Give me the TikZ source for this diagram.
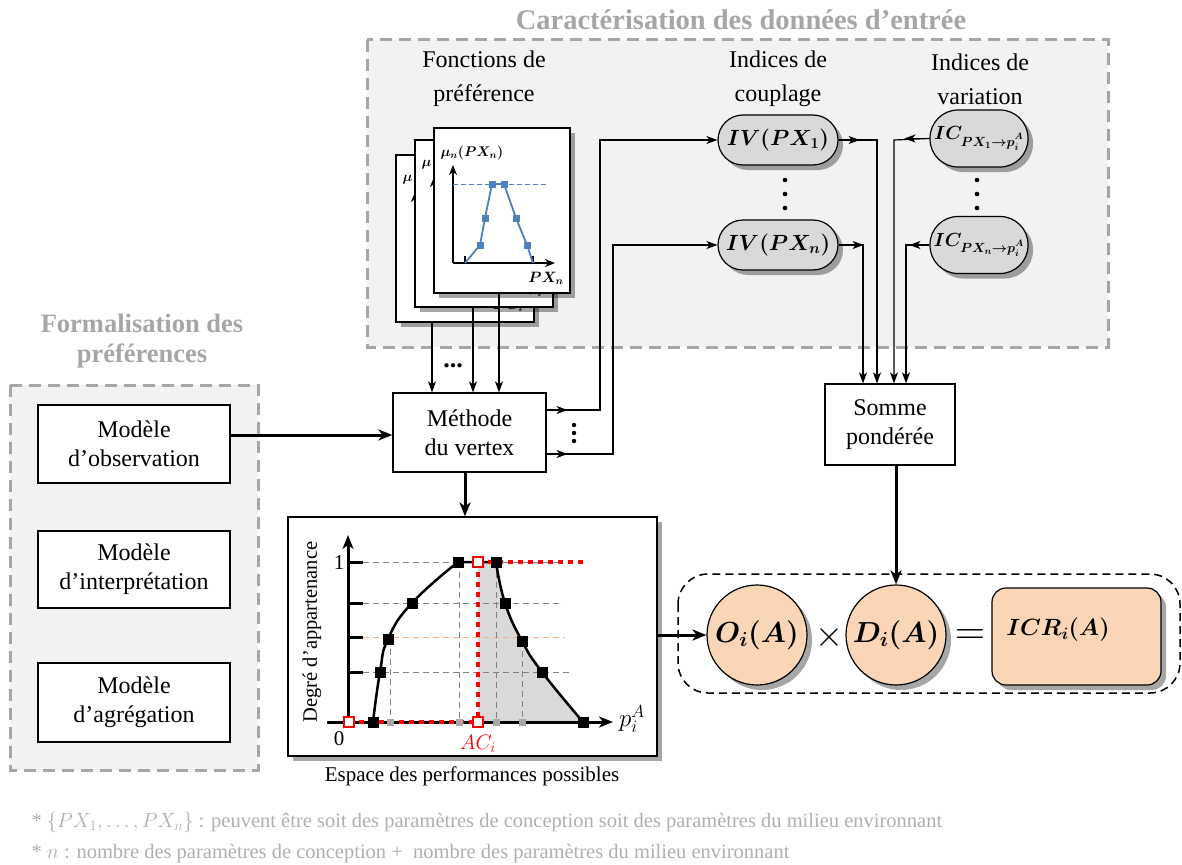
\RequirePackage{fix-cm}
\documentclass[tikz,border=0pt]{standalone}
\usepackage{fontspec}
\setmainfont{Liberation Serif}
\usepackage{amsmath}
\usepackage{bm}
\usetikzlibrary{shadows,arrows.meta,calc}
\definecolor{ttl}{HTML}{A6A6A6}
\definecolor{bgg}{HTML}{F2F2F2}
\definecolor{peach}{HTML}{FAD6B6}
\definecolor{pillg}{HTML}{D9D9D9}
\definecolor{fng}{HTML}{AFAFAF}
\definecolor{orgd}{HTML}{F4B183}
\definecolor{bluec}{HTML}{4F81BD}
\definecolor{shadeg}{HTML}{D9D9D9}
\tikzset{
  grpbox/.style={fill=bgg, draw=ttl, line width=3pt, dash pattern=on 12pt off 7pt},
  grptitle/.style={text=ttl, font=\fontsize{26.5}{30}\selectfont\bfseries, align=center},
  lbl/.style={font=\fontsize{24}{34}\selectfont, align=center},
  wbox/.style={draw, fill=white, line width=1.2pt, font=\fontsize{24}{29}\selectfont, align=center, inner sep=0pt},
  shd/.style={drop shadow={shadow xshift=5pt, shadow yshift=-5pt, opacity=0.35, fill=black}},
  pg/.style={draw, fill=white, line width=1.2pt, minimum width=138pt, minimum height=167pt, inner sep=0pt, shd},
  pill/.style={draw, fill=pillg, line width=1.2pt, rounded corners=25pt, inner sep=0pt, shd, font=\fontsize{22}{26}\selectfont},
  conn/.style={line width=1.2pt},
  tip/.style={-{Stealth[length=11pt,width=8pt,inset=3pt]}},
  thk/.style={line width=3pt},
  ttip/.style={-{Stealth[length=14pt,width=11pt,inset=4pt]}},
  peachc/.style={circle, draw, fill=peach, line width=1.2pt, minimum size=100pt, inner sep=0pt, shd, font=\fontsize{29}{32}\selectfont},
  bsq/.style={fill=black, minimum size=11pt, inner sep=0pt},
  rsq/.style={draw=red, fill=white, line width=1.5pt, minimum size=10pt, inner sep=0pt},
  gsq/.style={fill=gray!70, minimum size=7pt, inner sep=0pt},
  gdash/.style={gray, line width=1pt, dash pattern=on 6pt off 4pt},
  reddot/.style={red, line width=4.5pt, dash pattern=on 5pt off 5pt},
  chartax/.style={line width=2.2pt, -{Stealth[length=10pt,width=8pt,inset=3pt]}},
  fnote/.style={anchor=west, text=fng, font=\fontsize{20.5}{24}\selectfont},
  icfont/.style={font=\fontsize{19}{22}\selectfont},
}
\newcommand\pgchart[4]{%
  \begin{scope}[shift={#1}]
    \draw[chartax] (19,135) -- (19,37);
    \draw[chartax] (19,135) -- (121,135);
    \node[font=\fontsize{14}{16}\selectfont, anchor=west] at (3,25) {#2};
    \node[font=\fontsize{15}{16}\selectfont] at (112,150) {#3};
    #4
  \end{scope}}
\newcommand\piA{p_{i}^{\raisebox{1.5pt}{$\scriptscriptstyle\bm{A}$}}}
\begin{document}
\begin{tikzpicture}[x=1pt,y=-1pt]
\useasboundingbox (0,0) rectangle (1182,864);

% group boxes
\draw[grpbox] (367,40) rectangle (1108,347);
\node[grptitle, font=\fontsize{28.5}{30}\selectfont\bfseries] (t1) at (741,20) {Caractérisation des données d’entrée};
\draw[grpbox] (10,385) rectangle (258,770);
\node[grptitle] (t2) at (142,341) {Formalisation des\\préférences};

% column labels
\node[lbl] (lf) at (484,79) {Fonctions de\\préférence};
\node[lbl] (lc) at (778,79) {Indices de\\couplage};
\node[lbl] (lv) at (980,79) {Indices de\\variation};

% pages
\node[pg] (p3) at (465,238.5) {};
\pgchart{(396,155)}{$\bm{\mu}$}{$\bm{PC_i}$}{}
\node[pg] (p2) at (484,223.5) {};
\pgchart{(415,140)}{$\bm{\mu}$}{$\bm{PC_i}$}{}
\node[pg, minimum width=136pt, minimum height=165pt] (p1) at (502,210.5) {};
\pgchart{(434,128)}{$\bm{\mu_n(PX_n)}$}{$\bm{PX_n}$}{%
  \draw[bluec, line width=1pt, dash pattern=on 5pt off 3pt] (19,56) -- (114,56);
  \draw[line width=1.5pt] (31,135) -- (31,128) (99,135) -- (99,128);
  \draw[bluec, line width=1.8pt] (31,135) -- (46,117) -- (51,90) -- (58,56) -- (70,56) -- (82,90) -- (93,117) -- (99,135);
  \foreach \p in {(46,117),(51,90),(58,56),(70,56),(82,90),(93,117)}
    \fill[bluec] \p +(-3.5,-3.5) rectangle +(3.5,3.5);
}

% left models
\node[wbox, minimum width=192pt, minimum height=78pt] (obs) at (134,444) {Modèle\\d’observation};
\node[wbox, minimum width=192pt, minimum height=77pt] (inter) at (134,569.5) {Modèle\\d’interprétation};
\node[wbox, minimum width=192pt, minimum height=79pt] (agr) at (134,702.5) {Modèle\\d’agrégation};

% central boxes
\node[wbox, minimum width=153pt, minimum height=79pt] (meth) at (469.5,432.5) {Méthode\\du vertex};
\node[wbox, minimum width=130pt, minimum height=81pt] (somme) at (890,424.5) {Somme\\pondérée};

% pills
\node[pill, minimum width=120pt, minimum height=50pt] (iv1) at (778,140) {$\bm{IV(PX_1)}$};
\node[pill, minimum width=120pt, minimum height=50pt] (ivn) at (778,245) {$\bm{IV(PX_n)}$};
\node[pill, minimum width=98pt, minimum height=57pt, rounded corners=28pt, icfont] (ic1) at (979,138.5) {$\bm{IC_{PX_1\rightarrow\piA}}$};
\node[pill, minimum width=98pt, minimum height=57pt, rounded corners=28pt, icfont] (icn) at (979,245) {$\bm{IC_{PX_n\rightarrow\piA}}$};

% vertical dots
\foreach \y in {180,194,208} {\fill (785,\y) circle (2.3pt); \fill (977,\y) circle (2.3pt);}
\foreach \y in {425,433,441} {\fill (574,\y) circle (2.2pt);}
\node[font=\fontsize{26}{26}\selectfont\bfseries] (hd) at (453,366) {...};

% connectors pages -> methode
\draw[conn, tip] (p3.south -| 432,0) -- (meth.north -| 432,0);
\draw[conn, tip] (p2.south -| 473,0) -- (meth.north -| 473,0);
\draw[conn, tip] (p1.south -| 499,0) -- (meth.north -| 499,0);

% methode -> IV
\draw[conn, tip] (meth.east |- 0,410) -- (600,410) -- (600,140) -- (iv1.west);
\draw[conn, tip] (meth.east |- 0,410) -- ++(21,0);
\draw[conn, tip] (meth.east |- 0,454) -- (613,454) -- (613,245) -- (ivn.west);
\draw[conn, tip] (meth.east |- 0,454) -- ++(21,0);

% IV, IC -> somme
\draw[conn, tip] (iv1.east) -- (877,140) -- (somme.north -| 877,0);
\draw[conn, tip] (iv1.east) -- ++(21,0);
\draw[conn, tip] (ivn.east) -- (863,245) -- (somme.north -| 863,0);
\draw[conn, tip] (ivn.east) -- ++(25,0);
\draw[conn, tip] (ic1.west) -- (894,140) -- (somme.north -| 894,0);
\draw[conn, tip] (ic1.west) -- ++(-25,0);
\draw[conn, tip] (icn.west) -- (906,245) -- (somme.north -| 906,0);
\draw[conn, tip] (icn.west) -- ++(-20,0);

% graph box
\node[draw, fill=white, line width=1.2pt, minimum width=369pt, minimum height=239pt, inner sep=0pt, shd] (gbox) at (472.5,636.5) {};
\node[font=\fontsize{21}{24}\selectfont] (cap) at (472,776) {Espace des performances possibles};

% graph content
\fill[shadeg] (478,562) -- plot[smooth, tension=0.8] coordinates {(496,562) (505,603) (522,641) (542,672) (583,722)} -- (478,722) -- cycle;
\draw[gdash] (363,562) -- (560,562);
\draw[gdash] (363,603) -- (563,603);
\draw[orgd, line width=1pt, dash pattern=on 6pt off 4pt] (363,637) -- (565,637);
\draw[gdash] (363,672) -- (572,672);
\draw[gdash] (390,639) -- (390,722);
\draw[gdash] (459,562) -- (459,722);
\draw[gdash] (496,562) -- (496,722);
\draw[gdash] (522,641) -- (522,722);
\draw[line width=2.5pt] plot[smooth, tension=0.8] coordinates {(373,722) (380,672) (388,639) (412,603) (458,562)} -- (496,562)
   plot[smooth, tension=0.8] coordinates {(496,562) (505,603) (522,641) (542,672) (583,722)};
\draw[line width=3pt, ttip] (327,722) -- (613,722);
\draw[line width=3pt, ttip] (348,722) -- (348,535);
\foreach \y in {562,603,637,672} \draw[line width=3pt] (348,\y) -- (363,\y);
\draw[reddot] (478,562) -- (585,562);
\draw[reddot] (478,562) -- (478,722);
\draw[reddot] (349,722) -- (478,722);
\foreach \x in {390,459,496,522} \node[gsq] at (\x,722) {};
\foreach \p in {(373,722),(380,672),(388,639),(412,603),(458,562),(496,562),(505,603),(522,641),(542,672),(583,722)}
  \node[bsq] at \p {};
\node[rsq] at (349,722) {};
\node[rsq] at (478,722) {};
\node[rsq] at (478,562) {};
\node[font=\fontsize{21}{22}\selectfont] (one) at (339,563) {1};
\node[font=\fontsize{21}{22}\selectfont] (zero) at (339,739) {0};
\node[font=\fontsize{21}{22}\selectfont, text=red] (ac) at (478,744) {$AC_i$};
\node[font=\fontsize{25}{26}\selectfont] (pia) at (632,719) {$p_i^A$};
\node[font=\fontsize{20.5}{22}\selectfont, rotate=90] (deg) at (312,632) {Degré d’appartenance};

% result group
\draw[line width=1.5pt, dash pattern=on 8pt off 5pt, rounded corners=30pt] (678,574) rectangle (1180,693);
\node[peachc] (oc) at (757,635) {$\bm{O_i(A)}$};
\node[peachc] (dc) at (896,635) {$\bm{D_i(A)}$};
\node[font=\fontsize{36}{36}\selectfont] (times) at (829,637) {$\times$};
\node[font=\fontsize{42}{42}\selectfont] (eq) at (970,637) {$=$};
\node[draw, fill=peach, line width=1.2pt, rounded corners=14pt, minimum width=169pt, minimum height=97pt, inner sep=0pt, shd] (icr) at (1076.5,636.5) {};
\node[font=\fontsize{23.5}{28}\selectfont] (icrt) at (1058,630) {$\bm{ICR_i(A)}$};

% thick connectors
\draw[thk, ttip] (obs.east |- 0,435) -- (meth.west |- 0,435);
\draw[thk, ttip] (meth.south -| 465,0) -- (gbox.north -| 465,0);
\draw[thk, ttip] (gbox.east |- oc.west) -- (oc.west);
\draw[thk, ttip] (somme.south -| dc.north) -- (dc.north);

% footnotes
\node[fnote] (fn1) at (28,822) {* $\{PX_1,\dots,PX_n\}$ : peuvent être soit des paramètres de conception soit des paramètres du milieu environnant};
\node[fnote] (fn2) at (28,854) {* $n$ : nombre des paramètres de conception +\ \ nombre des paramètres du milieu environnant};
\end{tikzpicture}
\end{document}
